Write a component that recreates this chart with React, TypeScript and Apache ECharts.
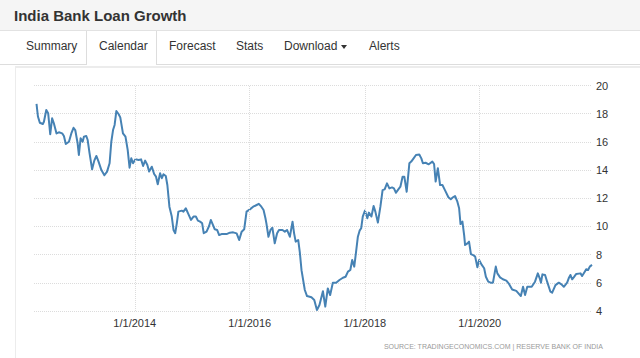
import React, { useEffect, useRef } from "react";
import * as echarts from "echarts";

const title = "India Bank Loan Growth";
const navItems = ["Summary", "Calendar", "Forecast", "Stats", "Download", "Alerts"];
const navX = [26, 99, 169, 236, 284, 369];
const sourceText = "SOURCE: TRADINGECONOMICS.COM | RESERVE BANK OF INDIA";

const xMin = "2012-04-01";
const xMax = "2021-12-14";
const tickDates = ["2014-01-01", "2016-01-01", "2018-01-01", "2020-01-01"];
const yMin = 4;
const yMax = 20;
const yStep = 2;

const dates = [
  "2012-04-17","2012-04-26","2012-05-08","2012-05-27","2012-06-03","2012-06-18","2012-06-30","2012-07-13","2012-07-25","2012-08-05","2012-08-22","2012-09-06","2012-09-27","2012-10-08","2012-10-20","2012-11-09","2012-11-24","2012-12-08","2012-12-19",
  "2013-01-03","2013-01-11","2013-01-22","2013-02-04","2013-02-12","2013-02-27","2013-03-08","2013-03-20","2013-04-05","2013-04-19","2013-05-02","2013-05-16","2013-06-03","2013-06-22","2013-07-09","2013-07-25","2013-08-05","2013-08-16","2013-08-26","2013-09-06","2013-09-21","2013-10-01","2013-10-18","2013-11-03","2013-11-17","2013-11-29","2013-12-10","2013-12-21",
  "2014-01-05","2014-01-26","2014-02-10","2014-02-23","2014-03-08","2014-03-22","2014-04-02","2014-04-19","2014-05-04","2014-05-16","2014-05-27","2014-06-11","2014-06-22","2014-07-02","2014-07-17","2014-07-27","2014-08-09","2014-08-24","2014-09-04","2014-09-15","2014-09-25","2014-10-05","2014-10-26","2014-11-06","2014-11-21","2014-12-07","2014-12-24",
  "2015-01-09","2015-01-24","2015-02-06","2015-02-20","2015-03-05","2015-03-15","2015-04-02","2015-04-18","2015-04-29","2015-05-13","2015-05-24","2015-06-08","2015-06-21","2015-07-06","2015-08-07","2015-08-28","2015-09-18","2015-10-10","2015-10-26","2015-11-11","2015-11-27","2015-12-12",
  "2016-01-02","2016-01-23","2016-02-14","2016-02-28","2016-03-15","2016-03-29","2016-04-10","2016-04-16","2016-04-29","2016-05-12","2016-05-24","2016-06-08","2016-06-23","2016-07-05","2016-07-27","2016-08-11","2016-08-25","2016-09-12","2016-09-29","2016-10-09","2016-10-19","2016-11-04","2016-11-14","2016-11-25","2016-12-16","2016-12-30",
  "2017-01-27","2017-02-14","2017-03-03","2017-03-19","2017-04-10","2017-04-25","2017-05-11","2017-05-26","2017-06-12","2017-07-03","2017-07-24","2017-08-15","2017-09-01","2017-09-16","2017-10-01","2017-10-13","2017-10-26","2017-11-08","2017-11-18","2017-11-29","2017-12-09","2017-12-19",
  "2018-01-02","2018-01-17","2018-01-27","2018-02-12","2018-02-26","2018-03-09","2018-03-25","2018-04-10","2018-04-24","2018-05-07","2018-05-22","2018-06-06","2018-06-23","2018-07-05","2018-07-18","2018-08-02","2018-08-15","2018-08-29","2018-09-09","2018-09-24","2018-10-11","2018-10-23","2018-11-07","2018-11-22","2018-12-13","2018-12-26",
  "2019-01-05","2019-01-22","2019-02-11","2019-03-06","2019-03-17","2019-03-27","2019-04-10","2019-04-24","2019-05-09","2019-05-25","2019-06-16","2019-07-01","2019-07-15","2019-07-28","2019-08-12","2019-08-23","2019-09-01","2019-09-13","2019-09-24","2019-09-30","2019-10-15","2019-10-25","2019-11-06","2019-11-20","2019-12-03","2019-12-17","2019-12-28",
  "2020-01-14","2020-01-29","2020-02-09","2020-02-24","2020-03-10","2020-03-25","2020-04-12","2020-04-22","2020-05-09","2020-05-27","2020-06-18","2020-07-05","2020-07-25","2020-08-20","2020-09-03","2020-09-18","2020-10-02","2020-10-15","2020-10-29","2020-11-26","2020-12-17",
  "2021-01-04","2021-01-16","2021-01-24","2021-02-02","2021-02-19","2021-03-04","2021-03-25","2021-04-05","2021-04-26","2021-05-17","2021-06-03","2021-06-18","2021-07-09","2021-07-19","2021-07-30","2021-08-10","2021-08-20","2021-09-05","2021-10-02","2021-10-12","2021-10-29","2021-11-07","2021-11-19","2021-11-30","2021-12-14",
];

const values = [
  18.7,17.8,17.36,17.27,17.43,18.26,18.03,16.54,17.67,17.32,16.6,16.68,16.6,16.42,15.85,16.01,16.6,17.0,16.84,
  15.9,15.07,16.25,16.01,16.37,16.42,16.13,15.19,14.05,14.67,15.0,14.6,14.0,13.63,13.89,14.48,16.01,16.84,17.2,18.19,17.96,17.74,16.6,16.37,15.43,14.17,14.84,14.48,
  14.76,14.72,14.76,14.29,14.67,14.36,13.89,14.24,13.72,13.53,12.99,13.77,13.42,13.7,13.58,12.94,11.4,10.7,9.75,9.52,10.22,11.05,11.12,11.05,11.29,10.89,10.46,
  10.7,10.7,10.41,10.34,10.22,9.52,9.63,10.03,10.46,10.1,9.8,9.75,9.39,9.46,9.46,9.56,9.58,9.51,9.04,9.63,9.8,11.05,
  11.21,11.4,11.52,11.6,11.4,11.17,10.58,10.22,9.27,9.75,9.91,8.8,9.51,9.75,9.75,9.63,9.75,9.27,10.34,9.51,8.92,9.04,8.2,6.9,5.49,5.06,
  4.97,4.78,4.07,4.43,5.4,4.31,5.6,5.13,6.01,6.01,6.2,6.36,6.43,6.79,6.91,7.62,7.15,8.33,9.27,9.7,9.87,10.7,
  11.12,10.58,10.98,10.7,11.45,11.05,10.27,11.4,12.58,12.63,13.06,12.7,12.77,12.7,12.39,12.63,12.82,13.53,13.53,12.46,14.48,14.6,14.83,15.07,15.1,14.83,
  14.48,14.52,14.41,14.6,14.43,13.18,14.13,12.94,12.94,12.58,12.07,11.93,12.07,12.16,11.76,11.29,10.17,10.34,9.39,8.68,8.8,8.92,8.04,7.97,7.86,7.1,7.62,
  7.27,7.03,6.43,6.08,6.01,6.01,7.15,6.67,6.39,6.25,6.15,5.92,5.53,5.43,5.25,5.06,5.72,5.13,5.72,5.72,6.08,
  6.67,6.32,6.01,6.6,6.56,6.08,5.37,5.3,5.84,6.01,5.89,5.72,6.01,6.32,6.56,6.25,6.39,6.63,6.67,6.48,6.79,6.96,6.91,7.15,7.27,
];

const FONT = '"Liberation Sans", Arial, sans-serif';
const GRID_COLOR = "#dcdcdc";

export default function App() {
  const ref = useRef<HTMLDivElement>(null);

  useEffect(() => {
    if (!ref.current) return;
    const chart = echarts.init(ref.current, undefined, { renderer: "svg" });
    const n = Math.min(dates.length, values.length);
    const seriesData: [string, number][] = [];
    for (let i = 0; i < n; i++) seriesData.push([dates[i], values[i]]);

    const fmt = (s: string) => {
      const [y, m, d] = s.split("-").map(Number);
      return `${m}/${d}/${y}`;
    };

    chart.setOption({
      animation: false,
      backgroundColor: "transparent",
      textStyle: { fontFamily: FONT },
      grid: { left: 34, right: 48, top: 85.5, bottom: 47, containLabel: false },
      xAxis: {
        type: "time",
        min: xMin,
        max: xMax,
        axisLine: { show: false },
        axisTick: { show: false },
        axisLabel: { show: false },
        splitLine: { show: false },
      },
      yAxis: {
        type: "value",
        position: "right",
        min: yMin,
        max: yMax,
        interval: yStep,
        axisLine: { show: false },
        axisTick: { show: false },
        axisLabel: { color: "#333", fontSize: 11, margin: 4 },
        splitLine: {
          show: true,
          lineStyle: { color: GRID_COLOR, type: "dotted", width: 1 },
        },
      },
      graphic: [
        {
          type: "text",
          right: 37,
          top: 343,
          style: {
            text: sourceText,
            fontSize: 7,
            fill: "#9a9a9a",
            fontFamily: FONT,
          },
        },
      ],
      series: [
        {
          type: "line",
          name: "grid",
          data: seriesData,
          showSymbol: false,
          symbol: "none",
          silent: true,
          z: 1,
          lineStyle: { opacity: 0, width: 0 },
          markLine: {
            silent: true,
            symbol: ["none", "none"],
            animation: false,
            lineStyle: { color: GRID_COLOR, type: "dotted", width: 1 },
            label: {
              show: true,
              position: "start",
              distance: 6,
              color: "#333",
              fontSize: 11,
              fontFamily: FONT,
              formatter: (p: any) => fmt(tickDates[p.dataIndex]),
            },
            emphasis: { disabled: true },
            data: tickDates.map((d) => ({ xAxis: d })),
          },
        },
        {
          type: "line",
          name: "India Bank Loan Growth",
          data: seriesData,
          showSymbol: false,
          symbol: "none",
          smooth: false,
          z: 3,
          lineStyle: { color: "#4682b4", width: 2, join: "round" },
          itemStyle: { color: "#4682b4" },
        },
      ],
    });
    return () => chart.dispose();
  }, []);

  return (
    <div
      style={{
        position: "fixed",
        left: 0,
        top: 0,
        width: 640,
        height: 358,
        overflow: "hidden",
        background: "#fff",
        fontFamily: FONT,
      }}
    >
      <div
        style={{
          position: "absolute",
          left: 0,
          top: 0,
          width: 640,
          height: 30,
          background: "#f5f5f5",
          borderBottom: "1px solid #e2e2e2",
        }}
      />
      <div
        style={{
          position: "absolute",
          left: 14,
          top: 8,
          fontSize: 15,
          lineHeight: "15px",
          fontWeight: "bold",
          color: "#333",
          whiteSpace: "nowrap",
        }}
      >
        {title}
      </div>
      <div style={{ position: "absolute", left: 0, top: 64, width: 87, height: 1, background: "#dddddd" }} />
      <div style={{ position: "absolute", left: 156, top: 64, width: 484, height: 1, background: "#dddddd" }} />
      <div
        style={{
          position: "absolute",
          left: 86,
          top: 31,
          width: 69,
          height: 34,
          borderLeft: "1px solid #dddddd",
          borderRight: "1px solid #dddddd",
          background: "#fff",
        }}
      />
      {navItems.map((t, i) => (
        <div
          key={t}
          style={{
            position: "absolute",
            left: navX[i],
            top: 40,
            fontSize: 12,
            lineHeight: "12px",
            color: "#333",
            whiteSpace: "nowrap",
          }}
        >
          {t}
        </div>
      ))}
      <div
        style={{
          position: "absolute",
          left: 341,
          top: 45,
          width: 0,
          height: 0,
          borderLeft: "3.5px solid transparent",
          borderRight: "3.5px solid transparent",
          borderTop: "4px solid #333",
        }}
      />
      <div
        style={{
          position: "absolute",
          left: 15,
          top: 66,
          width: 640,
          height: 300,
          borderLeft: "1px solid #ececec",
          borderTop: "2px solid #ececec",
        }}
      />
      <div
        ref={ref}
        style={{ position: "absolute", left: 0, top: 0, width: 640, height: 358 }}
      />
    </div>
  );
}
